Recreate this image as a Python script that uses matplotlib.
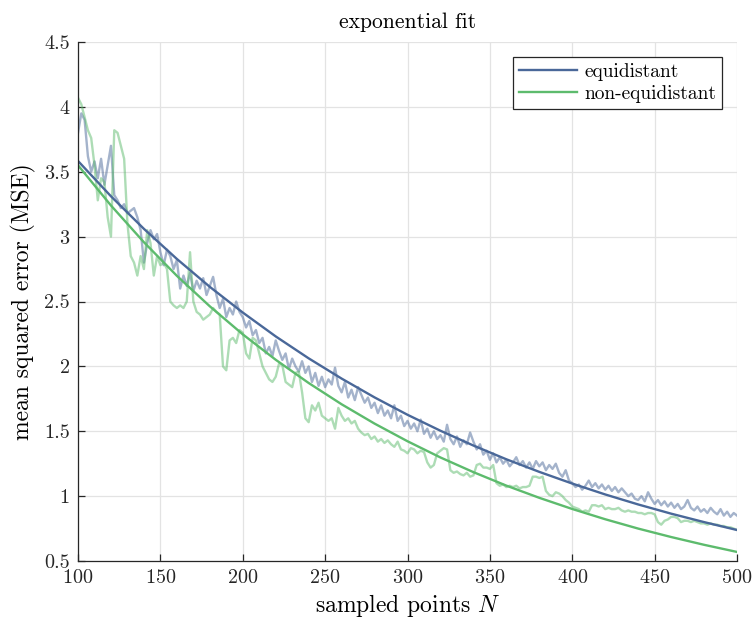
import numpy as np
import matplotlib
matplotlib.use("Agg")
import matplotlib.pyplot as plt

plt.rcParams['font.family'] = ['cmr10', 'DejaVu Serif']
plt.rcParams['mathtext.fontset'] = 'cm'
plt.rcParams['axes.formatter.use_mathtext'] = True

# sampled points N (every 2)
N = list(range(100, 501, 2))

mse_equidistant = [
    3.80, 3.95, 3.90, 3.62, 3.50, 3.58, 3.45, 3.60, 3.40, 3.55,
    3.70, 3.32, 3.28, 3.22, 3.25, 3.18, 3.20, 3.22, 3.15, 3.05,
    2.80, 2.95, 3.05, 2.98, 3.02, 2.88, 2.78, 2.90, 2.85, 2.75,
    2.82, 2.60, 2.70, 2.62, 2.72, 2.58, 2.66, 2.60, 2.68, 2.55,
    2.62, 2.69, 2.55, 2.45, 2.52, 2.38, 2.45, 2.40, 2.50, 2.42,
    2.38, 2.30, 2.35, 2.24, 2.28, 2.18, 2.22, 2.10, 2.15, 2.08,
    2.20, 2.12, 2.05, 2.10, 1.98, 2.06, 2.00, 1.96, 2.04, 1.95,
    2.00, 1.88, 1.95, 1.85, 1.92, 1.84, 1.90, 1.86, 1.99, 1.85,
    1.80, 1.88, 1.76, 1.82, 1.74, 1.84, 1.78, 1.72, 1.76, 1.68,
    1.72, 1.64, 1.70, 1.62, 1.66, 1.60, 1.70, 1.58, 1.62, 1.54,
    1.58, 1.52, 1.56, 1.50, 1.59, 1.48, 1.52, 1.45, 1.50, 1.44,
    1.47, 1.42, 1.55, 1.44, 1.40, 1.46, 1.38, 1.43, 1.40, 1.49,
    1.42, 1.36, 1.40, 1.32, 1.35, 1.28, 1.33, 1.26, 1.30, 1.25,
    1.28, 1.23, 1.26, 1.30, 1.24, 1.27, 1.22, 1.26, 1.21, 1.27,
    1.23, 1.26, 1.20, 1.24, 1.21, 1.25, 1.18, 1.15, 1.20, 1.12,
    1.10, 1.07, 1.09, 1.05, 1.08, 1.12, 1.07, 1.10, 1.06, 1.09,
    1.05, 1.08, 1.04, 1.07, 1.03, 1.06, 1.03, 1.00, 1.02, 0.98,
    0.97, 1.00, 0.96, 1.03, 0.98, 0.94, 0.97, 0.93, 0.96, 0.92,
    0.95, 0.91, 0.94, 0.90, 0.92, 0.97, 0.91, 0.89, 0.92, 0.88,
    0.90, 0.87, 0.91, 0.88, 0.86, 0.90, 0.85, 0.88, 0.84, 0.87,
    0.85,
]

mse_non_equidistant = [
    4.07, 4.02, 3.92, 3.82, 3.76, 3.55, 3.28, 3.45, 3.42, 3.15,
    3.00, 3.82, 3.80, 3.70, 3.60, 3.10, 2.85, 2.80, 2.70, 2.85,
    2.75, 3.05, 2.95, 2.70, 2.85, 2.78, 2.80, 2.75, 2.50, 2.47,
    2.45, 2.47, 2.45, 2.50, 2.88, 2.50, 2.42, 2.40, 2.36, 2.38,
    2.40, 2.45, 2.42, 2.40, 2.00, 1.97, 2.20, 2.22, 2.18, 2.28,
    2.26, 2.10, 2.06, 2.22, 2.20, 2.10, 2.00, 1.95, 1.90, 1.88,
    1.92, 2.02, 2.01, 1.88, 1.86, 1.84, 1.95, 1.96, 1.80, 1.60,
    1.57, 1.70, 1.66, 1.72, 1.62, 1.60, 1.58, 1.60, 1.52, 1.68,
    1.62, 1.58, 1.60, 1.56, 1.58, 1.52, 1.49, 1.47, 1.48, 1.44,
    1.46, 1.42, 1.44, 1.41, 1.43, 1.40, 1.38, 1.42, 1.36, 1.35,
    1.33, 1.37, 1.36, 1.33, 1.35, 1.34, 1.26, 1.22, 1.24, 1.33,
    1.35, 1.37, 1.36, 1.20, 1.18, 1.19, 1.17, 1.16, 1.18, 1.15,
    1.16, 1.24, 1.25, 1.22, 1.22, 1.21, 1.24, 1.10, 1.08, 1.09,
    1.07, 1.08, 1.07, 1.08, 1.06, 1.07, 1.07, 1.08, 1.15, 1.15,
    1.14, 1.15, 1.04, 1.01, 1.00, 1.03, 1.02, 1.00, 0.97, 0.95,
    0.92, 0.91, 0.90, 0.88, 0.89, 0.88, 0.93, 0.93, 0.92, 0.93,
    0.90, 0.91, 0.90, 0.90, 0.91, 0.89, 0.88, 0.89, 0.88, 0.88,
    0.87, 0.87, 0.86, 0.87, 0.87, 0.86, 0.80, 0.78, 0.81, 0.82,
    0.84, 0.84, 0.83, 0.80, 0.81, 0.81, 0.80, 0.81, 0.80, 0.79,
    0.79, 0.78, 0.79, 0.78, 0.78, 0.77, 0.77, 0.76, 0.76, 0.75,
    0.74,
]

# exponential fit curves (every 20)
N_fit = list(range(100, 501, 20))
fit_equidistant = [3.583, 3.311, 3.060, 2.828, 2.613, 2.415, 2.231, 2.062, 1.906, 1.761,
                   1.627, 1.504, 1.390, 1.284, 1.187, 1.097, 1.013, 0.936, 0.865, 0.800, 0.739]
fit_non_equidistant = [3.550, 3.240, 2.957, 2.698, 2.463, 2.247, 2.051, 1.872, 1.708, 1.559,
                       1.423, 1.298, 1.185, 1.081, 0.987, 0.901, 0.822, 0.750, 0.685, 0.625, 0.570]

x_ticks = list(range(100, 501, 50))
y_ticks = [0.5, 1, 1.5, 2, 2.5, 3, 3.5, 4, 4.5]
y_ticklabels = ['0.5', '1', '1.5', '2', '2.5', '3', '3.5', '4', '4.5']

blue = '#4a6899'
green = '#5dbb6d'

fig = plt.figure(figsize=(7.56, 6.26), dpi=100)
ax = fig.add_axes([0.1032, 0.1038, 0.8717, 0.8291])

ax.plot(N, mse_equidistant, color=blue, alpha=0.5, lw=1.7)
ax.plot(N, mse_non_equidistant, color=green, alpha=0.5, lw=1.7)
ax.plot(N_fit, fit_equidistant, color=blue, lw=1.7, label='equidistant')
ax.plot(N_fit, fit_non_equidistant, color=green, lw=1.7, label='non-equidistant')

ax.set_xlim(100, 500)
ax.set_ylim(0.5, 4.5)
ax.set_xticks(x_ticks)
ax.set_yticks(y_ticks)
ax.set_yticklabels(y_ticklabels)
ax.grid(True, color='#e3e3e3', lw=0.9)
ax.set_axisbelow(True)
for s in ['top', 'right']:
    ax.spines[s].set_visible(False)
for s in ['left', 'bottom']:
    ax.spines[s].set_color('#262626')
    ax.spines[s].set_linewidth(0.9)
ax.tick_params(direction='in', length=5, width=0.9, colors='#262626', labelsize=14.5, pad=6)

ax.set_title('exponential fit', fontsize=15.5, pad=10)
ax.set_xlabel('sampled points $N$', fontsize=17, labelpad=3)
ax.set_ylabel('mean squared error (MSE)', fontsize=17, labelpad=6)

leg = ax.legend(loc='upper right', bbox_to_anchor=(0.977, 0.971), borderaxespad=0,
                fontsize=14, frameon=True, fancybox=False, edgecolor='#262626',
                framealpha=1, handlelength=3.0, borderpad=0.3, labelspacing=0.2,
                handletextpad=0.35)
leg.get_frame().set_linewidth(0.9)

fig.savefig('out.png', dpi=100)
